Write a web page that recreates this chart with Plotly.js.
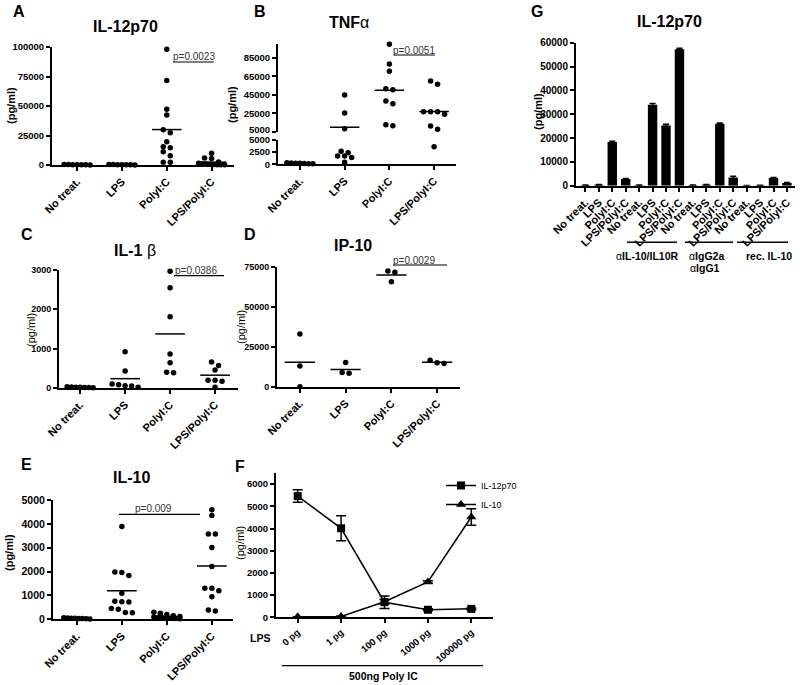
<!DOCTYPE html>
<html>
<head>
<meta charset="utf-8">
<script src="https://cdn.plot.ly/plotly-3.0.1.min.js"></script>
<style>body{margin:0;background:#fff}#graph{width:800px;height:685px}</style>
</head>
<body>
<div id="graph"></div>
<script>
const W = 800, H = 685;
const FONT = 'Liberation Sans, Arial, sans-serif';

const groups = ['No treat.', 'LPS', 'PolyI:C', 'LPS/PolyI:C'];

// A: IL-12p70
const il12NoTreat = [300, 150, 500, 200, 100, 250, 400];
const il12Lps = [200, 350, 150, 450, 250, 100, 300];
const il12Polyic = [98000, 71700, 47200, 42400, 29900, 27400, 19700, 14700, 15500, 11300, 7900, 2300, 2300];
const il12LpsPolyic = [9900, 6000, 5500, 2500, 1500, 1000, 800, 600, 400, 300, 200, 200];

// B: TNFa
const tnfNoTreat = [300, 200, 250, 150, 100, 200, 120];
const tnfLps = [44700, 25200, 8300, 2700, 2400, 1700, 1700, 1400, 400];
const tnfPolyic = [99400, 78200, 70200, 50400, 51500, 38200, 35300, 11500, 12600];
const tnfLpsPolyic = [59800, 56200, 26600, 26600, 23800, 26600, 11200, 7600, 3600];

// C: IL-1b
const il1NoTreat = [30, 20, 10, 25, 15, 5, 20];
const il1Lps = [920, 430, 100, 80, 60, 20, 50];
const il1Polyic = [2970, 2550, 1810, 865, 640, 390, 400];
const il1LpsPolyic = [460, 570, 660, 200, 170, 200, 20];

// D: IP-10
const ip10NoTreat = [32900, 12900, 0];
const ip10Lps = [15200, 8400, 8800];
const ip10Polyic = [72300, 71500, 65600];
const ip10LpsPolyic = [16500, 14500, 15000];

// E: IL-10
const il10NoTreat = [60, 40, 30, 50, 20, 40, 10, 30];
const il10Lps = [3890, 1960, 1980, 1840, 1090, 760, 740, 720, 450, 420, 280, 270];
const il10Polyic = [300, 250, 200, 150, 120, 100, 80, 60, 40, 30, 20, 50];
const il10LpsPolyic = [4590, 4350, 3570, 3570, 3010, 2210, 1200, 1300, 1300, 950, 350, 390];

// F: LPS dose
const lpsDoses = ['0 pg', '1 pg', '100 pg', '1000 pg', '100000 pg'];
const doseIl12 = [5460, 4010, 680, 340, 380];
const doseIl12Err = [280, 560, 280, 40, 40];
const doseIl10 = [20, 40, 700, 1590, 4520];
const doseIl10Err = [10, 20, 100, 60, 370];

// G: IL-12p70 with blocking
const gLabels = groups.concat(groups, groups, groups);
const gIl12 = [200, 400, 18300, 2800, 200, 34000, 25300, 57300, 200, 400, 26000, 3400, 100, 150, 3200, 1100];
const gIl12Err = [50, 80, 300, 200, 50, 500, 500, 400, 50, 80, 300, 600, 30, 40, 200, 200];


function xDom(a, b) { return [a / W, b / W]; }
function yDom(top, bottom) { return [1 - bottom / H, 1 - top / H]; }

const base = {
    showline: true, linecolor: 'black', linewidth: 2,
    ticks: 'outside', ticklen: 4, tickwidth: 2, tickcolor: 'black',
    showgrid: false, zeroline: false, fixedrange: true,
};

function catAxis(dom, range, labels, size, angle, anchor) {
    return Object.assign({}, base, {
        domain: xDom(dom[0], dom[1]), range: range, anchor: anchor,
        tickmode: 'array', tickvals: labels.map((_, i) => i), ticktext: labels,
        tickangle: angle,
        tickfont: {family: FONT, size: size, color: 'black', weight: 'bold'},
    });
}

function valAxis(dom, range, tickvals, size, anchor, ticktext) {
    return Object.assign({}, base, {
        domain: yDom(dom[0], dom[1]), range: range, anchor: anchor,
        tickmode: 'array', tickvals: tickvals, ticktext: ticktext || tickvals.map(String),
        tickfont: {family: FONT, size: size, color: 'black', weight: 'bold'},
    });
}

// column scatter like Prism: points at similar height are laid out in a row
function swarm(values, cat, toPx, pxPerCat) {
    const pts = values.slice().sort((a, b) => b - a).map(v => ({v: v, py: toPx(v)}));
    const rows = [];
    pts.forEach(p => {
        const r = rows[rows.length - 1];
        if (r && Math.abs(p.py - r[0].py) < 4.5) r.push(p); else rows.push([p]);
    });
    const xs = [], ys = [];
    rows.forEach(r => {
        const n = r.length;
        const gap = n > 1 ? Math.min(7, 26 / (n - 1)) : 0;
        r.forEach((p, k) => {
            xs.push(cat + (k - (n - 1) / 2) * gap / pxPerCat);
            ys.push(p.v);
        });
    });
    return {x: xs, y: ys};
}

function dotTraces(seriesList, xId, yIdFor, pxPerCat, toPx) {
    const dots = {}, means = {};
    seriesList.forEach((vals, i) => {
        const s = swarm(vals, i, toPx, pxPerCat);
        s.x.forEach((x, k) => {
            const id = yIdFor(s.y[k]);
            dots[id] = dots[id] || {x: [], y: []};
            dots[id].x.push(x);
            dots[id].y.push(s.y[k]);
        });
        const m = vals.reduce((a, b) => a + b, 0) / vals.length;
        const id = yIdFor(m);
        means[id] = means[id] || {x: [], y: []};
        means[id].x.push(i - 0.33, i + 0.33, null);
        means[id].y.push(m, m, null);
    });
    const out = [];
    Object.keys(dots).forEach(id => out.push({
        x: dots[id].x, y: dots[id].y, xaxis: xId, yaxis: id,
        mode: 'markers', type: 'scatter', cliponaxis: false, showlegend: false,
        marker: {color: 'black', size: 5.5},
        hoverinfo: 'none',
    }));
    Object.keys(means).forEach(id => out.push({
        x: means[id].x, y: means[id].y, xaxis: xId, yaxis: id,
        mode: 'lines', type: 'scatter', cliponaxis: false, showlegend: false,
        line: {color: 'black', width: 1.5},
        hoverinfo: 'none',
    }));
    return out;
}

function linear(top, bottom, r0, r1) {
    return v => bottom - (v - r0) / (r1 - r0) * (bottom - top);
}

function perCat(dom, range) {
    return (dom[1] - dom[0]) / (range[1] - range[0]);
}

// panel geometry in pixels
const A = {x: [52, 234], y: [47, 165], xr: [-0.56, 3.5], yr: [0, 100000]};
const B = {x: [278, 456], yLow: [140, 164.3], yHigh: [43.8, 131.7], xr: [-0.49, 3.49]};
const C = {x: [59, 238], y: [270, 388], xr: [-0.47, 3.51], yr: [0, 3000]};
const D = {x: [277, 460], y: [266.7, 386.7], xr: [-0.5, 3.5], yr: [0, 75000]};
const E = {x: [53, 233], y: [500, 619.3], xr: [-0.53, 3.47], yr: [0, 5000]};
const F = {x: [276, 493], y: [473, 617.3], xr: [-0.5, 4.5], yr: [0, 6500]};
const G = {x: [576, 795], y: [42.7, 185.7], xr: [-0.7, 15.6], yr: [0, 60000]};

let traces = [];

traces = traces.concat(dotTraces([il12NoTreat, il12Lps, il12Polyic, il12LpsPolyic], 'x', () => 'y',
    perCat(A.x, A.xr), linear(A.y[0], A.y[1], A.yr[0], A.yr[1])));

const bLow = linear(B.yLow[0], B.yLow[1], 0, 5000);
const bHigh = linear(B.yHigh[0], B.yHigh[1], 5000, 100000);
traces = traces.concat(dotTraces([tnfNoTreat, tnfLps, tnfPolyic, tnfLpsPolyic], 'x2', v => v >= 5000 ? 'y3' : 'y2',
    perCat(B.x, B.xr), v => v >= 5000 ? bHigh(v) : bLow(v)));

traces = traces.concat(dotTraces([il1NoTreat, il1Lps, il1Polyic, il1LpsPolyic], 'x3', () => 'y4',
    perCat(C.x, C.xr), linear(C.y[0], C.y[1], C.yr[0], C.yr[1])));

traces = traces.concat(dotTraces([ip10NoTreat, ip10Lps, ip10Polyic, ip10LpsPolyic], 'x4', () => 'y5',
    perCat(D.x, D.xr), linear(D.y[0], D.y[1], D.yr[0], D.yr[1])));

traces = traces.concat(dotTraces([il10NoTreat, il10Lps, il10Polyic, il10LpsPolyic], 'x5', () => 'y6',
    perCat(E.x, E.xr), linear(E.y[0], E.y[1], E.yr[0], E.yr[1])));

const doseX = lpsDoses.map((_, i) => i);
traces.push({
    x: doseX, y: doseIl12, xaxis: 'x6', yaxis: 'y7', name: 'IL-12p70',
    type: 'scatter', mode: 'lines+markers', cliponaxis: false,
    line: {color: 'black', width: 1.5},
    marker: {symbol: 'square', size: 8, color: 'black'},
    error_y: {type: 'data', array: doseIl12Err, color: 'black', thickness: 1.5, width: 5},
});
traces.push({
    x: doseX, y: doseIl10, xaxis: 'x6', yaxis: 'y7', name: 'IL-10',
    type: 'scatter', mode: 'lines+markers', cliponaxis: false,
    line: {color: 'black', width: 1.5},
    marker: {symbol: 'triangle-up', size: 9, color: 'black'},
    error_y: {type: 'data', array: doseIl10Err, color: 'black', thickness: 1.5, width: 5},
});

traces.push({
    x: gLabels.map((_, i) => i), y: gIl12, xaxis: 'x7', yaxis: 'y8',
    type: 'bar', width: 0.7, showlegend: false,
    marker: {color: 'black'},
    error_y: {type: 'data', array: gIl12Err, color: 'black', thickness: 1.5, width: 3},
});


function label(text, x, y, size, extra) {
    return Object.assign({
        text: text, x: x / W, y: 1 - y / H, xref: 'paper', yref: 'paper',
        showarrow: false, xanchor: 'center', yanchor: 'middle',
        font: {family: FONT, size: size, color: 'black'},
    }, extra || {});
}

function hline(x0, x1, y, w) {
    return {type: 'line', xref: 'paper', yref: 'paper', x0: x0 / W, x1: x1 / W,
        y0: 1 - y / H, y1: 1 - y / H, line: {color: 'black', width: w || 1.2}};
}

const pStyle = {font: {family: FONT, size: 10, color: '#333'}};

const annotations = [
    label('<b>A</b>', 19, 12, 16),
    label('<b>B</b>', 260, 12, 16),
    label('<b>C</b>', 27, 234, 16),
    label('<b>D</b>', 250, 234, 16),
    label('<b>E</b>', 26, 465, 16),
    label('<b>F</b>', 240, 466, 16),
    label('<b>G</b>', 537, 12, 16),

    label('<b>IL-12p70</b>', 125, 26, 16),
    label('<b>TNF</b>α', 349, 22, 16),
    label('<b>IL-1</b> β', 135, 250, 16),
    label('<b>IP-10</b>', 353, 245, 16),
    label('<b>IL-10</b>', 131, 477, 16),
    label('<b>IL-12p70</b>', 669, 21, 16),

    label('<b>(pg/ml)</b>', 11, 106, 11, {textangle: -90}),
    label('<b>(pg/ml)</b>', 232, 104, 11, {textangle: -90}),
    label('(pg/ml)', 31, 330, 11, {textangle: -90}),
    label('(pg/ml)', 241, 327, 11, {textangle: -90}),
    label('<b>(pg/ml)</b>', 9, 553, 11, {textangle: -90}),
    label('(pg/ml)', 240, 543, 11, {textangle: -90}),
    label('<b>(pg/ml)</b>', 538, 112, 11, {textangle: -90}),

    // upper 5000 of the broken TNF axis, nudged up so it clears the lower one
    label('<b>5000</b>', 272, 129.5, 9.5, {xanchor: 'right'}),

    label('p=0.0023', 193.5, 57, 10, pStyle),
    label('p=0.0051', 414.5, 50, 10, pStyle),
    label('p=0.0386', 196, 270, 10, pStyle),
    label('p=0.0029', 414, 260, 10, pStyle),
    label('p=0.009', 153, 508, 10, pStyle),

    label('<b>LPS</b>', 260, 638, 10.5),
    label('<b>500ng Poly IC</b>', 383, 676, 10.5),

    label('α<b>IL-10/IL10R</b>', 647, 256, 10.5),
    label('α<b>IgG2a</b>', 706, 256, 10.5),
    label('α<b>IgG1</b>', 705, 268, 10.5),
    label('<b>rec. IL-10</b>', 769, 256, 10.5),
];

const shapes = [
    hline(173, 214, 62, 1),
    hline(394, 435, 55, 1),
    hline(174, 224, 275.7, 1.2),
    hline(393, 447, 265, 1.2),
    hline(119, 200, 514.3, 1.2),
    hline(282, 483, 665.7, 1.2),
    hline(627, 677, 242.3, 1.5),
    hline(685, 733, 242.3, 1.5),
    hline(737, 788, 242.3, 1.5),
];

const layout = {
    width: W, height: H,
    margin: {l: 0, r: 0, t: 0, b: 0},
    paper_bgcolor: 'white', plot_bgcolor: 'white',
    font: {family: FONT, color: 'black'},
    showlegend: true,
    legend: {
        x: 441 / W, y: 1 - 471 / H, xanchor: 'left', yanchor: 'top',
        font: {family: FONT, size: 9, color: 'black'},
        bgcolor: 'rgba(0,0,0,0)', itemwidth: 30, tracegroupgap: 0,
    },

    xaxis: catAxis(A.x, A.xr, groups, 11, -45, 'y'),
    yaxis: valAxis(A.y, A.yr, [0, 25000, 50000, 75000, 100000], 9.5, 'x'),

    xaxis2: catAxis(B.x, B.xr, groups, 11, -45, 'y2'),
    yaxis2: valAxis(B.yLow, [0, 5000], [0, 2500, 5000], 9.5, 'x2'),
    yaxis3: valAxis(B.yHigh, [5000, 100000], [5000, 25000, 45000, 65000, 85000], 9.5, 'x2',
        ['', '25000', '45000', '65000', '85000']),

    xaxis3: catAxis(C.x, C.xr, groups, 11, -45, 'y4'),
    yaxis4: valAxis(C.y, C.yr, [0, 1000, 2000, 3000], 9, 'x3'),

    xaxis4: catAxis(D.x, D.xr, groups, 11, -45, 'y5'),
    yaxis5: valAxis(D.y, D.yr, [0, 25000, 50000, 75000], 9, 'x4'),

    xaxis5: catAxis(E.x, E.xr, groups, 11, -45, 'y6'),
    yaxis6: valAxis(E.y, E.yr, [0, 1000, 2000, 3000, 4000, 5000], 10.5, 'x5'),

    xaxis6: catAxis(F.x, F.xr, lpsDoses, 9.5, -40, 'y7'),
    yaxis7: valAxis(F.y, F.yr, [0, 1000, 2000, 3000, 4000, 5000, 6000], 9.5, 'x6'),

    xaxis7: catAxis(G.x, G.xr, gLabels, 11, -45, 'y8'),
    yaxis8: valAxis(G.y, G.yr, [0, 10000, 20000, 30000, 40000, 50000, 60000], 10, 'x7'),

    annotations: annotations,
    shapes: shapes,
};

Plotly.newPlot('graph', traces, layout, {displayModeBar: false, staticPlot: true});
</script>
</body>
</html>
